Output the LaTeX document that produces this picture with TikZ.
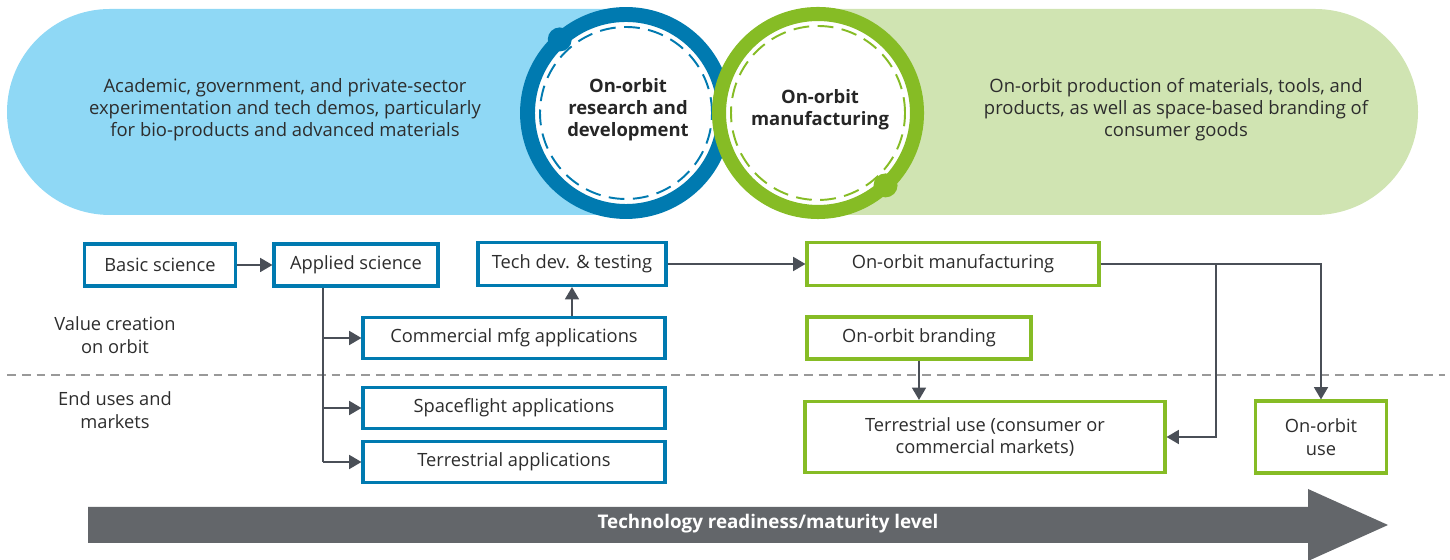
\documentclass[tikz,border=0pt]{standalone}
\usepackage{fontspec}
\setmainfont{Open Sans}
\usepackage{xcolor}
\usepackage{tikz}
\usetikzlibrary{arrows.meta,positioning,calc}

\definecolor{ringblue}{RGB}{0,122,176}
\definecolor{skyfill}{RGB}{143,216,245}
\definecolor{ringgreen}{RGB}{134,188,37}
\definecolor{leaffill}{RGB}{208,228,178}
\definecolor{linkgray}{RGB}{74,79,87}
\definecolor{bargray}{RGB}{99,102,106}
\definecolor{inkgray}{RGB}{45,45,45}

\begin{document}
\begin{tikzpicture}[
    x=0.02cm, y=0.02cm,
    font=\fontsize{10.4}{12.8}\selectfont, text=inkgray,
    rdbox/.style={rectangle, draw=ringblue, line width=1.8pt, fill=white, inner sep=2pt},
    mfgbox/.style={rectangle, draw=ringgreen, line width=1.8pt, fill=white, inner sep=2pt},
    blurb/.style={align=center, font=\fontsize{10.5}{12.5}\selectfont},
    hub/.style={align=center, font=\bfseries\fontsize{10.5}{12.5}\selectfont, text=black!85},
    edge/.style={-{Triangle[length=7pt,width=8pt]}, line width=0.85pt, draw=linkgray},
    link/.style={line width=0.85pt, draw=linkgray}
]
\useasboundingbox (0,0) rectangle (1450,560);

% capsules
\fill[skyfill] (626,551) -- (110,551) arc[start angle=90, end angle=270, radius=103] -- (626,345) -- cycle;
\fill[leaffill] (818,551) -- (1315,551) arc[start angle=90, end angle=-90, radius=103] -- (818,345) -- cycle;
\node[blurb] (rdtext) at (285,450) {Academic, government, and private-sector\\experimentation and tech demos, particularly\\for bio-products and advanced materials};
\node[blurb] (mfgtext) at (1176,450) {On-orbit production of materials, tools, and\\products, as well as space-based branding of\\consumer goods};

% rings
\coordinate (bc) at (626,447);
\coordinate (gc) at (818,447);
\draw[ringblue, line width=8.5pt, fill=white] (bc) circle[radius=98.5];
\draw[ringblue, line width=1.1pt, dash pattern=on 9pt off 4.8pt] (bc) circle[radius=86];
\fill[ringblue] (bc) ++(132:99) circle[radius=12];
\draw[ringgreen, line width=8pt, fill=white] (gc) circle[radius=99];
\draw[ringgreen, line width=1.1pt, dash pattern=on 9pt off 4.8pt] (gc) circle[radius=87];
\fill[ringgreen] (gc) ++(-47:99) circle[radius=12];
\node[hub] (rdhub) at (628,450) {On-orbit\\research and\\development};
\node[hub] (mfghub) at (820,450) {On-orbit\\manufacturing};

% divider and row labels
\draw[black!40, line width=1.1pt, dash pattern=on 5pt off 3.4pt] (7,185) -- (1445,185);
\node[align=center] (valrow) at (115,225) {Value creation\\on orbit};
\node[align=center] (endrow) at (115,150) {End uses and\\markets};

% value chain
\node[rdbox, minimum width=3.02cm, minimum height=0.84cm] (basic) at (160,295) {Basic science};
\node[rdbox, minimum width=3.28cm, minimum height=0.84cm] (applied) at (356,295) {Applied science};
\node[rdbox, minimum width=3.76cm, minimum height=0.86cm] (techdev) at (572,296) {Tech dev. \& testing};
\node[rdbox, minimum width=6.04cm, minimum height=0.82cm] (commercial) at (514,222) {Commercial mfg applications};
\node[rdbox, minimum width=6.04cm, minimum height=0.82cm] (spaceflight) at (514,152) {Spaceflight applications};
\node[rdbox, minimum width=6.04cm, minimum height=0.82cm] (terrapps) at (514,98) {Terrestrial applications};
\node[mfgbox, minimum width=5.84cm, minimum height=0.86cm] (orbitmfg) at (953,296) {On-orbit manufacturing};
\node[mfgbox, minimum width=4.48cm, minimum height=0.84cm] (branding) at (919,222) {On-orbit branding};
\node[mfgbox, minimum width=7.2cm, minimum height=1.42cm, align=center] (terruse) at (985,123) {Terrestrial use (consumer or\\commercial markets)};
\node[mfgbox, minimum width=2.62cm, minimum height=1.44cm, align=center] (orbituse) at (1321,123) {On-orbit\\use};

\coordinate (fork) at (323,0);
\coordinate (split) at (1216,296);
\draw[edge] (basic) -- (applied);
\draw[link] (fork |- applied.south) -- (fork |- terrapps);
\draw[edge] (fork |- commercial) -- (commercial);
\draw[edge] (fork |- spaceflight) -- (spaceflight);
\draw[edge] (fork |- terrapps) -- (terrapps);
\draw[edge] (commercial.north -| techdev) -- (techdev);
\draw[edge] (techdev) -- (orbitmfg);
\draw[edge] (orbitmfg) -| (orbituse);
\draw[edge] (split) |- (terruse);
\draw[edge] (branding.south) -- (branding.south |- terruse.north);

% maturity arrow
\fill[bargray] (88,53) -- (1308,53) -- (1308,71) -- (1388,35) -- (1308,-1) -- (1308,17) -- (88,17) -- cycle;
\node[text=white, font=\bfseries\fontsize{10.7}{12}\selectfont] (trl) at (768,36) {Technology readiness/maturity level};
\end{tikzpicture}
\end{document}
